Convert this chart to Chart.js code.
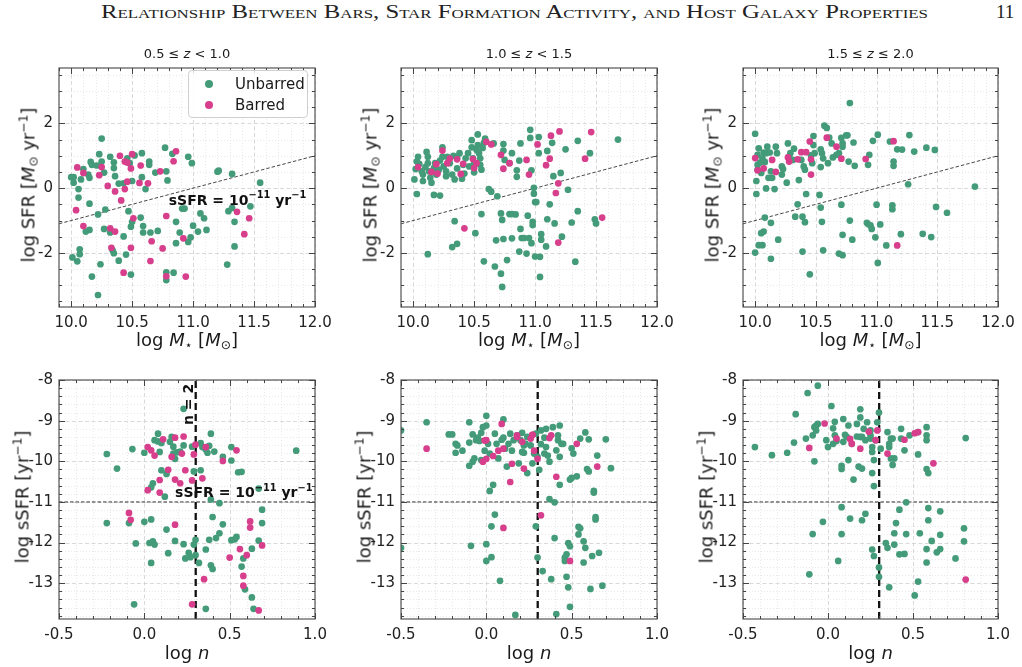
<!DOCTYPE html>
<html><head><meta charset="utf-8">
<script src="https://cdn.jsdelivr.net/npm/chart.js@4.4.1/dist/chart.umd.min.js"></script>
<style>
body{margin:0;background:#fff;width:1022px;height:667px;overflow:hidden;position:relative;font-family:"DejaVu Sans",sans-serif;color:#1a1a1a;}
canvas{position:absolute;}
.t{position:absolute;white-space:nowrap;transform:translate(-50%,-50%);}
.ry{transform:translate(-50%,-50%) rotate(-90deg);}
.ax{font-size:18px;}
.zl{font-size:13px;}
sub,sup{font-size:0.68em;line-height:0;}
sup{vertical-align:0.55em;} sub{vertical-align:-0.25em;}
#hdr{position:absolute;left:101px;top:1px;font-family:"Liberation Serif","DejaVu Serif",serif;font-variant:small-caps;font-size:19px;color:#222;white-space:nowrap;transform-origin:0 0;}
#pg{position:absolute;left:996px;top:1px;font-family:"Liberation Serif","DejaVu Serif",serif;font-size:19px;color:#222;}
#leg{position:absolute;left:188px;top:70px;width:118px;height:46px;border:1px solid #cfcfcf;border-radius:4px;background:rgba(255,255,255,0.85);font-size:15px;}
#leg .row{position:absolute;left:0;height:20px;line-height:20px;}
#leg .dot{position:absolute;left:16px;top:6px;width:8px;height:8px;border-radius:50%;}
#leg .lab{position:absolute;left:46px;top:0;}
</style></head><body>
<div id="hdr">Relationship Between Bars, Star Formation Activity, and Host Galaxy Properties</div>
<div id="pg">11</div>
<script>
// ---------------- data ----------------
const Z_BINS = ['0.5 ≤ <i>z</i> < 1.0', '1.0 ≤ <i>z</i> < 1.5', '1.5 ≤ <i>z</i> ≤ 2.0'];
const TOP_X_TICKS = [10.0, 10.5, 11.0, 11.5, 12.0];
const TOP_Y_TICKS = [-2, 0, 2];
const BOT_X_TICKS = [-0.5, 0.0, 0.5, 1.0];
const BOT_Y_TICKS = [-13, -12, -11, -10, -9, -8];
const LOG_SSFR_CUT = -11;          // sSFR = 10^-11 yr^-1
const LOG_N2 = Math.log10(2);      // n = 2

// log M* vs log SFR
const massSFR_z05_unb = [[10.25,1.53],[10.00,0.34],[10.02,0.34],[10.02,0.17],[10.06,-0.03],[10.06,-0.29],[10.15,-0.48],[10.01,-2.14],[10.05,-2.26],[10.07,-2.04],[10.07,-1.89],[10.17,-2.73],[10.22,-3.30],[10.24,-2.35],[10.08,0.27],[10.10,0.59],[10.14,0.42],[10.15,0.32],[10.16,0.81],[10.17,0.72],[10.21,0.70],[10.23,1.05],[10.25,0.82],[10.27,0.48],[10.28,-0.66],[10.22,-0.81],[10.27,-1.26],[10.12,-1.34],[10.15,-1.29],[10.32,0.97],[10.35,0.62],[10.35,0.80],[10.36,0.37],[10.39,0.14],[10.32,-1.37],[10.34,-1.92],[10.35,-2.01],[10.39,-2.24],[10.43,0.15],[10.43,-1.49],[10.45,-2.05],[10.46,0.92],[10.48,0.77],[10.47,-0.71],[10.49,-1.19],[10.50,-1.04],[10.49,-2.67],[10.50,0.22],[10.52,1.01],[10.58,1.08],[10.58,0.34],[10.57,-0.91],[10.59,-1.17],[10.59,-1.37],[10.61,-0.03],[10.64,0.82],[10.64,0.72],[10.65,-1.37],[10.69,0.48],[10.71,-1.32],[10.77,1.25],[10.78,0.52],[10.79,0.24],[10.78,-2.60],[10.78,-2.84],[10.83,1.06],[10.84,-2.61],[10.86,-1.04],[10.86,-1.70],[10.89,-1.37],[10.91,-0.63],[10.93,-0.63],[10.96,0.97],[10.99,0.77],[10.96,-1.66],[10.98,-1.52],[11.00,-1.16],[11.04,-1.34],[11.06,-0.78],[11.09,-0.93],[11.11,-1.29],[11.20,0.51],[11.21,0.54],[11.28,-2.36],[11.29,-0.71],[11.32,0.44],[11.32,-0.61],[11.34,-1.04],[11.34,-1.80],[11.47,-0.56],[11.55,0.17]];
const massSFR_z05_bar = [[10.05,0.64],[10.04,-0.68],[10.10,-1.17],[10.10,0.47],[10.23,0.40],[10.25,0.65],[10.30,0.07],[10.32,-1.24],[10.33,-1.84],[10.36,-1.34],[10.36,-0.10],[10.40,1.00],[10.41,-0.38],[10.44,0.82],[10.43,-2.61],[10.44,-0.03],[10.46,0.79],[10.46,0.20],[10.49,0.61],[10.49,-1.84],[10.50,1.05],[10.51,-0.93],[10.56,0.16],[10.57,0.70],[10.63,0.15],[10.65,-2.25],[10.66,-1.64],[10.73,0.52],[10.75,-1.86],[10.78,-0.86],[10.78,-2.72],[10.84,0.83],[10.86,1.14],[10.92,-1.55],[10.94,-2.73],[11.36,-0.73],[11.42,-1.42],[11.46,-0.93]];

const massSFR_z10_unb = [[10.04,0.97],[10.01,0.27],[10.02,0.59],[10.03,0.82],[10.03,-0.18],[10.05,0.75],[10.07,0.52],[10.08,0.42],[10.08,0.22],[10.10,0.65],[10.11,1.12],[10.12,0.97],[10.12,0.77],[10.13,0.52],[10.14,0.32],[10.15,0.17],[10.17,-0.21],[10.17,0.62],[10.18,0.77],[10.19,0.42],[10.21,0.57],[10.22,0.85],[10.22,-0.23],[10.24,1.26],[10.24,0.97],[10.25,0.67],[10.27,0.37],[10.27,0.52],[10.28,0.97],[10.30,0.77],[10.32,0.42],[10.33,1.00],[10.34,0.27],[10.36,0.95],[10.36,0.61],[10.38,1.08],[10.40,0.29],[10.41,0.72],[10.42,0.45],[10.43,0.92],[10.45,1.08],[10.46,0.67],[10.48,1.48],[10.48,1.26],[10.49,0.92],[10.50,0.77],[10.50,0.49],[10.52,1.18],[10.53,1.33],[10.53,1.66],[10.54,1.08],[10.55,0.92],[10.55,0.72],[10.56,0.57],[10.57,1.24],[10.58,1.40],[10.59,1.53],[10.62,-0.03],[10.64,-0.11],[10.66,1.38],[10.69,-0.25],[10.74,1.36],[10.74,1.16],[10.75,0.87],[10.79,0.77],[10.81,1.08],[10.34,-1.02],[10.32,-1.82],[10.36,-1.72],[10.51,-1.39],[10.56,-0.80],[10.58,-2.26],[10.12,-2.04],[10.67,-2.42],[10.68,-1.61],[10.72,-0.78],[10.73,-0.98],[10.72,-2.64],[10.73,-3.05],[10.74,-1.57],[10.77,-2.22],[10.79,-0.80],[10.81,-0.80],[10.84,-0.81],[10.81,-1.55],[10.85,0.55],[10.85,0.35],[10.87,-1.96],[10.88,-1.26],[10.88,1.38],[10.87,0.85],[10.89,-1.54],[10.91,-1.54],[10.93,-2.02],[10.94,-0.85],[10.95,-1.54],[10.97,-1.70],[10.98,-1.04],[10.98,-1.14],[10.96,1.80],[10.96,1.55],[10.97,0.55],[10.99,0.01],[10.99,-0.17],[11.00,-0.43],[11.01,-0.43],[11.00,-2.11],[11.03,1.58],[11.03,1.08],[11.04,-2.74],[11.04,-2.12],[11.05,-1.42],[11.05,-1.59],[11.09,-1.80],[11.10,1.15],[11.10,-0.96],[11.12,-0.50],[11.14,1.40],[11.15,0.37],[11.16,-1.09],[11.21,0.47],[11.22,-1.50],[11.25,1.20],[11.27,-0.05],[11.30,-1.06],[11.33,-2.27],[11.35,1.46],[11.35,-0.71],[11.45,1.08],[11.49,-0.96],[11.50,-1.09],[11.68,1.50]];
const massSFR_z10_bar = [[10.04,0.65],[10.15,0.50],[10.19,0.74],[10.20,0.45],[10.24,1.16],[10.28,0.77],[10.30,0.91],[10.36,0.89],[10.39,0.44],[10.41,0.75],[10.42,-1.24],[10.49,0.90],[10.50,0.62],[10.52,0.77],[10.60,1.43],[10.64,1.35],[10.72,1.03],[10.74,0.60],[10.79,0.77],[10.93,0.87],[10.95,0.42],[11.02,1.35],[11.09,0.71],[11.12,0.91],[11.13,1.62],[11.17,-0.15],[11.19,0.15],[11.19,-1.68],[11.20,1.75],[11.41,0.91],[11.46,1.73],[11.55,-0.91]];

const massSFR_z15_unb = [[10.00,1.68],[10.01,0.22],[10.01,-0.18],[10.00,-1.99],[10.02,0.72],[10.02,0.57],[10.02,1.03],[10.03,1.23],[10.04,0.79],[10.05,0.47],[10.06,0.92],[10.07,1.10],[10.08,0.81],[10.09,1.08],[10.10,1.28],[10.12,1.10],[10.03,-1.76],[10.06,-1.76],[10.05,-1.39],[10.07,-1.34],[10.09,-0.01],[10.08,-0.91],[10.11,0.32],[10.13,0.52],[10.14,0.32],[10.13,-1.07],[10.13,-2.18],[10.16,-0.03],[10.17,1.28],[10.18,1.08],[10.19,-1.59],[10.22,0.67],[10.22,0.42],[10.23,0.59],[10.26,0.17],[10.27,1.38],[10.28,0.97],[10.29,1.08],[10.31,0.87],[10.32,1.22],[10.33,-0.88],[10.35,-0.50],[10.36,0.25],[10.38,0.87],[10.40,0.67],[10.41,0.57],[10.39,-1.96],[10.39,-0.88],[10.41,-1.05],[10.42,-0.18],[10.45,-2.66],[10.46,1.01],[10.48,1.33],[10.49,1.08],[10.47,0.77],[10.48,1.61],[10.53,-0.21],[10.54,-0.60],[10.55,-1.04],[10.56,-1.92],[10.54,0.65],[10.54,1.20],[10.55,1.08],[10.56,0.92],[10.57,1.93],[10.59,1.86],[10.60,0.77],[10.61,1.56],[10.63,1.38],[10.64,0.95],[10.67,1.03],[10.69,1.08],[10.71,1.55],[10.72,1.38],[10.72,1.28],[10.71,-0.51],[10.72,-1.44],[10.69,-2.02],[10.72,-2.07],[10.75,1.63],[10.76,1.63],[10.78,2.63],[10.77,0.82],[10.78,-1.00],[10.80,-1.59],[10.81,1.41],[10.82,0.69],[10.93,0.72],[10.94,1.03],[10.92,-1.07],[10.93,-1.11],[10.95,-1.15],[10.96,-1.26],[10.97,1.46],[10.99,-1.52],[11.00,-0.51],[11.01,-2.31],[11.01,1.65],[11.03,-1.12],[11.08,-1.77],[11.11,1.44],[11.13,-0.53],[11.13,-0.65],[11.14,0.69],[11.14,0.82],[11.17,1.20],[11.20,-1.42],[11.21,1.19],[11.27,1.64],[11.26,0.12],[11.31,1.13],[11.38,-1.41],[11.41,1.25],[11.45,-1.51],[11.48,1.18],[11.49,-0.58],[11.58,-0.76],[11.81,0.05]];
const massSFR_z15_bar = [[10.00,0.93],[10.02,0.55],[10.07,0.61],[10.14,0.87],[10.17,0.50],[10.27,0.95],[10.28,0.82],[10.35,0.89],[10.38,1.11],[10.42,1.11],[10.45,1.44],[10.46,0.89],[10.46,0.42],[10.59,1.56],[10.67,1.28],[10.71,0.91],[10.91,0.90],[11.14,1.45],[11.17,-1.77]];

// log n vs log sSFR
const nSSFR_z05_unb = [[-0.22,-11.52],[-0.22,-9.82],[-0.16,-10.18],[-0.07,-9.70],[-0.09,-11.52],[-0.06,-13.52],[-0.05,-12.02],[0.00,-9.79],[0.00,-11.49],[0.03,-12.01],[0.04,-11.43],[0.04,-10.64],[0.05,-10.54],[0.05,-11.97],[0.04,-12.50],[0.06,-12.05],[0.08,-9.32],[0.06,-9.48],[0.08,-9.51],[0.09,-9.77],[0.10,-10.22],[0.10,-9.55],[0.12,-10.87],[0.13,-11.68],[0.13,-10.31],[0.14,-12.26],[0.15,-9.52],[0.17,-9.64],[0.17,-9.81],[0.18,-9.94],[0.16,-9.40],[0.18,-11.96],[0.19,-9.78],[0.21,-9.76],[0.23,-9.61],[0.23,-12.04],[0.24,-12.39],[0.26,-12.25],[0.27,-12.36],[0.28,-9.64],[0.29,-12.05],[0.29,-10.25],[0.30,-12.31],[0.30,-11.93],[0.32,-12.50],[0.33,-9.55],[0.33,-10.22],[0.34,-9.65],[0.36,-9.71],[0.37,-9.79],[0.39,-9.32],[0.38,-9.62],[0.41,-9.76],[0.39,-10.94],[0.40,-11.37],[0.39,-12.56],[0.40,-12.65],[0.36,-13.63],[0.36,-12.17],[0.38,-11.93],[0.42,-11.89],[0.44,-11.03],[0.44,-11.77],[0.46,-9.89],[0.46,-11.55],[0.51,-9.65],[0.51,-9.98],[0.51,-11.94],[0.53,-11.92],[0.54,-11.86],[0.55,-10.27],[0.57,-10.26],[0.57,-12.59],[0.58,-12.39],[0.59,-13.15],[0.63,-13.35],[0.63,-12.15],[0.64,-13.63],[0.67,-10.67],[0.67,-11.95],[0.69,-11.19],[0.69,-11.52],[0.89,-9.74],[0.23,-8.71]];
const nSSFR_z05_bar = [[-0.09,-11.27],[-0.08,-11.44],[0.02,-10.71],[0.02,-9.65],[0.04,-9.73],[0.06,-9.86],[0.09,-10.46],[0.09,-10.77],[0.11,-9.46],[0.14,-10.21],[0.16,-9.89],[0.18,-9.42],[0.18,-10.45],[0.18,-11.56],[0.21,-10.54],[0.22,-9.81],[0.23,-9.39],[0.24,-10.22],[0.28,-10.47],[0.29,-9.83],[0.30,-9.59],[0.28,-13.52],[0.34,-10.42],[0.35,-12.90],[0.36,-9.65],[0.46,-9.99],[0.50,-12.37],[0.54,-9.73],[0.56,-12.16],[0.58,-12.82],[0.58,-13.06],[0.60,-12.31],[0.62,-11.63],[0.62,-11.48],[0.67,-13.67],[0.69,-12.07]];

const nSSFR_z10_unb = [[-0.50,-9.24],[-0.50,-12.13],[-0.35,-9.04],[-0.22,-9.34],[-0.20,-9.34],[-0.18,-9.57],[-0.17,-9.61],[-0.18,-9.79],[-0.14,-9.74],[-0.10,-10.11],[-0.10,-9.04],[-0.10,-9.54],[-0.09,-12.08],[-0.08,-9.34],[-0.08,-10.01],[-0.07,-9.93],[-0.06,-9.48],[-0.05,-9.42],[-0.04,-9.50],[-0.03,-9.30],[-0.03,-9.97],[-0.02,-9.16],[-0.01,-9.74],[0.00,-9.12],[0.00,-8.88],[0.00,-12.04],[0.00,-12.45],[0.02,-10.73],[0.01,-9.57],[0.02,-9.81],[0.03,-12.36],[0.03,-11.60],[0.04,-10.58],[0.05,-9.32],[0.05,-11.31],[0.06,-9.57],[0.07,-9.93],[0.08,-12.94],[0.09,-9.47],[0.10,-8.97],[0.10,-9.42],[0.11,-9.69],[0.12,-10.13],[0.13,-9.57],[0.14,-9.32],[0.15,-9.74],[0.16,-9.48],[0.18,-9.36],[0.19,-10.05],[0.20,-9.48],[0.21,-9.77],[0.21,-9.30],[0.22,-9.61],[0.22,-9.79],[0.23,-9.57],[0.24,-9.40],[0.24,-10.29],[0.26,-9.61],[0.27,-10.05],[0.28,-9.81],[0.29,-9.32],[0.29,-11.60],[0.30,-9.89],[0.30,-12.37],[0.31,-10.21],[0.32,-9.24],[0.32,-9.58],[0.33,-12.70],[0.34,-9.81],[0.34,-9.42],[0.35,-9.20],[0.35,-9.65],[0.36,-9.86],[0.37,-10.01],[0.37,-10.93],[0.38,-12.90],[0.39,-9.16],[0.40,-11.89],[0.40,-11.01],[0.41,-13.76],[0.41,-9.73],[0.42,-9.36],[0.43,-9.12],[0.42,-9.48],[0.43,-9.89],[0.43,-10.58],[0.44,-9.57],[0.45,-9.57],[0.46,-12.37],[0.46,-12.45],[0.47,-12.29],[0.47,-12.84],[0.48,-12.01],[0.48,-13.10],[0.49,-12.09],[0.49,-10.45],[0.49,-13.58],[0.50,-10.41],[0.50,-9.68],[0.51,-9.81],[0.53,-10.37],[0.54,-11.80],[0.54,-11.61],[0.55,-11.65],[0.55,-9.44],[0.57,-12.49],[0.57,-11.97],[0.58,-12.13],[0.58,-9.29],[0.59,-10.19],[0.60,-10.25],[0.60,-9.46],[0.61,-13.14],[0.62,-12.33],[0.63,-10.77],[0.63,-10.73],[0.64,-11.43],[0.64,-11.37],[0.65,-9.86],[0.66,-12.25],[0.68,-13.06],[0.70,-9.46],[0.73,-10.17],[0.17,-13.78]];
const nSSFR_z10_bar = [[-0.35,-9.69],[-0.02,-10.01],[-0.01,-9.49],[0.00,-9.48],[0.00,-9.94],[0.04,-9.87],[0.07,-9.74],[0.09,-9.08],[0.10,-9.69],[0.10,-11.64],[0.14,-10.51],[0.15,-10.06],[0.18,-9.36],[0.18,-9.40],[0.21,-9.52],[0.22,-10.18],[0.26,-9.44],[0.27,-9.35],[0.27,-9.35],[0.28,-9.74],[0.30,-9.94],[0.32,-11.33],[0.37,-9.43],[0.38,-9.36],[0.41,-10.38],[0.49,-12.45],[0.53,-9.57],[0.65,-10.13]];

const nSSFR_z15_unb = [[-0.43,-9.65],[-0.33,-9.85],[-0.24,-9.79],[-0.20,-9.54],[-0.19,-8.84],[-0.12,-8.32],[-0.11,-12.78],[-0.13,-9.44],[-0.09,-11.79],[-0.09,-9.36],[-0.08,-10.00],[-0.08,-9.16],[-0.07,-9.12],[-0.07,-9.24],[-0.06,-9.08],[-0.06,-8.14],[-0.03,-11.49],[-0.01,-9.48],[0.00,-9.65],[0.02,-8.64],[0.03,-9.19],[0.03,-9.57],[0.04,-9.36],[0.04,-9.03],[0.05,-9.50],[0.06,-12.45],[0.08,-10.11],[0.08,-11.13],[0.08,-10.19],[0.08,-11.79],[0.09,-9.52],[0.09,-8.96],[0.10,-9.35],[0.11,-9.40],[0.12,-9.97],[0.12,-9.12],[0.13,-11.41],[0.14,-9.57],[0.15,-10.45],[0.17,-9.08],[0.17,-9.39],[0.18,-10.13],[0.19,-8.92],[0.19,-9.40],[0.19,-8.72],[0.20,-11.45],[0.20,-10.18],[0.20,-9.40],[0.21,-9.20],[0.22,-11.29],[0.22,-9.48],[0.23,-9.04],[0.25,-9.24],[0.25,-9.44],[0.25,-9.36],[0.26,-10.29],[0.26,-9.65],[0.26,-9.77],[0.27,-9.97],[0.26,-12.17],[0.27,-12.33],[0.27,-10.61],[0.28,-9.48],[0.29,-9.04],[0.30,-8.80],[0.30,-12.61],[0.30,-12.84],[0.31,-9.69],[0.34,-12.01],[0.35,-9.28],[0.35,-12.13],[0.36,-13.10],[0.36,-9.57],[0.36,-9.65],[0.37,-9.44],[0.37,-9.93],[0.38,-10.09],[0.38,-9.44],[0.39,-11.77],[0.39,-12.05],[0.39,-9.93],[0.40,-11.52],[0.42,-11.19],[0.42,-12.29],[0.43,-9.20],[0.43,-9.44],[0.45,-12.28],[0.45,-9.73],[0.46,-11.79],[0.46,-11.01],[0.48,-9.36],[0.51,-13.30],[0.53,-12.96],[0.53,-9.83],[0.54,-11.77],[0.53,-9.28],[0.58,-9.16],[0.58,-9.36],[0.58,-9.48],[0.58,-10.19],[0.59,-11.15],[0.58,-12.16],[0.58,-12.49],[0.59,-10.29],[0.59,-11.45],[0.61,-11.96],[0.64,-12.24],[0.66,-12.16],[0.66,-11.81],[0.66,-11.23],[0.75,-12.39],[0.80,-11.65],[0.80,-11.97],[0.81,-9.43]];
const nSSFR_z15_bar = [[-0.11,-9.67],[-0.02,-9.07],[0.05,-9.44],[0.13,-9.45],[0.14,-9.57],[0.19,-9.69],[0.24,-9.27],[0.28,-9.48],[0.29,-9.24],[0.35,-9.81],[0.45,-9.47],[0.51,-9.31],[0.53,-9.28],[0.62,-10.05],[0.81,-12.91]];

// ---------------- styles / layout ----------------
const GREEN = '#449b79', PINK = '#d73e8b';
const SSFR_PARTS = [{t:'sSFR = 10'},{t:'−11',sup:true},{t:' yr'},{t:'−1',sup:true}];

const panels = [
  {L:59, T:63, R:315, B:307, kind:'top', unb:massSFR_z05_unb, bar:massSFR_z05_bar, z:0,
   notes:[{parts:SSFR_PARTS, x:10.80, y:-0.40, align:'left'}]},
  {L:401, T:63, R:657, B:307, kind:'top', unb:massSFR_z10_unb, bar:massSFR_z10_bar, z:1, notes:[]},
  {L:743, T:63, R:998, B:307, kind:'top', unb:massSFR_z15_unb, bar:massSFR_z15_bar, z:2, notes:[]},
  {L:59, T:375, R:315, B:619, kind:'bot', unb:nSSFR_z05_unb, bar:nSSFR_z05_bar,
   notes:[{parts:SSFR_PARTS, x:0.18, y:-10.80, align:'left'},
          {parts:[{t:'n = 2'}], x:0.266, y:-8.60, align:'center', rot:true}]},
  {L:401, T:375, R:657, B:619, kind:'bot', unb:nSSFR_z10_unb, bar:nSSFR_z10_bar, notes:[]},
  {L:743, T:375, R:998, B:619, kind:'bot', unb:nSSFR_z15_unb, bar:nSSFR_z15_bar, notes:[]},
];

Chart.defaults.font.family = "'DejaVu Sans', sans-serif";
Chart.defaults.color = '#222';

function drawRich(ctx, parts, x, y, size, align){
  const fonts = parts.map(p => `bold ${p.sup ? size*0.7 : size}px 'DejaVu Sans'`);
  const widths = parts.map((p,i)=>{ctx.font = fonts[i]; return ctx.measureText(p.t).width;});
  const total = widths.reduce((a,b)=>a+b,0);
  let cx = align === 'left' ? x : x - total/2;
  ctx.textBaseline = 'middle'; ctx.textAlign = 'left';
  parts.forEach((p,i)=>{ctx.font = fonts[i]; ctx.fillText(p.t, cx, p.sup ? y - size*0.4 : y); cx += widths[i];});
}

function steps(min, max, step){
  const out = [];
  for (let i = Math.ceil(min/step - 1e-9); i*step <= max + 1e-9; i++) out.push(+(i*step).toFixed(6));
  return out;
}
function isMult(v, s){ const r = v/s; return Math.abs(r - Math.round(r)) < 1e-6; }

const framePlugin = {
  id: 'frame',
  beforeDatasetsDraw(chart, args, opts){
    const {ctx, chartArea:a, scales:{x, y}} = chart;
    const g = opts.grid;
    ctx.save();
    ctx.lineWidth = 0.8;
    const drawV = (v, dash, col) => { const px = Math.round(x.getPixelForValue(v))+0.5; ctx.setLineDash(dash); ctx.strokeStyle = col; ctx.beginPath(); ctx.moveTo(px, a.top); ctx.lineTo(px, a.bottom); ctx.stroke(); };
    const drawH = (v, dash, col) => { const py = Math.round(y.getPixelForValue(v))+0.5; ctx.setLineDash(dash); ctx.strokeStyle = col; ctx.beginPath(); ctx.moveTo(a.left, py); ctx.lineTo(a.right, py); ctx.stroke(); };
    steps(x.min, x.max, g.xMinor).forEach(v => { if (!isMult(v, g.xMajor)) drawV(v, [1,2], '#e2e2e2'); });
    steps(y.min, y.max, g.yMinor).forEach(v => { if (!isMult(v, g.yMajor)) drawH(v, [1,2], '#e2e2e2'); });
    steps(x.min, x.max, g.xMajor).forEach(v => drawV(v, [4,2.5], '#cfcfcf'));
    steps(y.min, y.max, g.yMajor).forEach(v => drawH(v, [4,2.5], '#cfcfcf'));
    ctx.restore();
  },
  afterDatasetsDraw(chart, args, opts){
    const {ctx, chartArea:a, scales:{x, y}} = chart;
    const g = opts.grid;
    ctx.save();
    ctx.setLineDash([]);
    ctx.strokeStyle = '#555'; ctx.lineWidth = 1.2;
    ctx.strokeRect(a.left, a.top, a.right - a.left, a.bottom - a.top);
    ctx.lineWidth = 1; ctx.strokeStyle = '#444';
    steps(x.min, x.max, g.xMinor).forEach(v => {
      const len = isMult(v, g.xMajor) ? 6 : 3; const px = Math.round(x.getPixelForValue(v))+0.5;
      ctx.beginPath(); ctx.moveTo(px, a.bottom); ctx.lineTo(px, a.bottom - len); ctx.moveTo(px, a.top); ctx.lineTo(px, a.top + len); ctx.stroke();
    });
    steps(y.min, y.max, g.yMinor).forEach(v => {
      const len = isMult(v, g.yMajor) ? 6 : 3; const py = Math.round(y.getPixelForValue(v))+0.5;
      ctx.beginPath(); ctx.moveTo(a.left, py); ctx.lineTo(a.left + len, py); ctx.moveTo(a.right, py); ctx.lineTo(a.right - len, py); ctx.stroke();
    });
    ctx.fillStyle = '#111';
    (opts.notes || []).forEach(n => {
      const px = x.getPixelForValue(n.x), py = y.getPixelForValue(n.y);
      if (n.rot){ ctx.save(); ctx.translate(px, py); ctx.rotate(-Math.PI/2); drawRich(ctx, n.parts, 0, 0, 14, 'center'); ctx.restore(); }
      else drawRich(ctx, n.parts, px, py, 14, n.align);
    });
    ctx.restore();
  }
};

function addText(html, cx, cy, cls){
  const d = document.createElement('div');
  d.className = 't ' + cls; d.innerHTML = html;
  d.style.left = cx + 'px'; d.style.top = cy + 'px';
  document.body.appendChild(d);
}

function makePanel(p){
  const padT = 10, padR = 24, Ly = 55, Lx = 30;
  const w = Ly + (p.R - p.L) + padR, h = padT + (p.B - p.T) + Lx;
  const cv = document.createElement('canvas');
  cv.width = w; cv.height = h;
  cv.style.left = (p.L - Ly) + 'px'; cv.style.top = (p.T - padT) + 'px';
  cv.style.width = w + 'px'; cv.style.height = h + 'px';
  document.body.appendChild(cv);
  const top = p.kind === 'top';
  const xr = top ? [9.9, 12.0] : [-0.5, 1.0];
  const yr = top ? [-3.67, 3.71] : [-13.88, -8];
  const XT = top ? TOP_X_TICKS : BOT_X_TICKS;
  const YT = top ? TOP_Y_TICKS : BOT_Y_TICKS;
  const pt = (arr) => arr.map(([x, y]) => ({x, y}));
  const datasets = [
    {label:'Unbarred', data:pt(p.unb), backgroundColor:GREEN, borderWidth:0, pointRadius:3.35, pointHoverRadius:3.35, order:2},
    {label:'Barred', data:pt(p.bar), backgroundColor:PINK, borderWidth:0, pointRadius:3.35, pointHoverRadius:3.35, order:1},
  ];
  if (top){
    datasets.push({data:[{x:xr[0], y:xr[0] + LOG_SSFR_CUT}, {x:xr[1], y:xr[1] + LOG_SSFR_CUT}], showLine:true, pointRadius:0, borderColor:'#333', borderWidth:0.9, borderDash:[3.5,2], order:3});
  } else {
    datasets.push({data:[{x:xr[0], y:LOG_SSFR_CUT}, {x:xr[1], y:LOG_SSFR_CUT}], showLine:true, pointRadius:0, borderColor:'#222', borderWidth:0.9, borderDash:[3.5,2], order:3});
    datasets.push({data:[{x:LOG_N2, y:yr[0]}, {x:LOG_N2, y:yr[1]}], showLine:true, pointRadius:0, borderColor:'#111', borderWidth:2.3, borderDash:[7,4], order:3});
  }
  new Chart(cv, {
    type:'scatter',
    data:{datasets},
    options:{
      responsive:false, animation:false, devicePixelRatio:1, events:[],
      layout:{padding:{top:padT, right:padR, left:0, bottom:0}},
      plugins:{legend:{display:false}, tooltip:{enabled:false},
        frame:{grid: top ? {xMinor:0.1, xMajor:0.5, yMinor:0.5, yMajor:2} : {xMinor:0.1, xMajor:0.5, yMinor:0.2, yMajor:1}, notes:p.notes}},
      scales:{
        x:{type:'linear', min:xr[0], max:xr[1],
           afterBuildTicks: s => { s.ticks = XT.map(v => ({value:v})); },
           afterFit: s => { s.height = Lx; },
           grid:{display:false, drawTicks:false}, border:{display:false},
           ticks:{padding:7, font:{size:15}, color:'#222', autoSkip:false, maxRotation:0, callback: v => Number(v).toFixed(1)}},
        y:{type:'linear', min:yr[0], max:yr[1],
           afterBuildTicks: s => { s.ticks = YT.map(v => ({value:v})); },
           afterFit: s => { s.width = Ly; },
           grid:{display:false, drawTicks:false}, border:{display:false},
           ticks:{padding:6, font:{size:15}, color:'#222', autoSkip:false, callback: v => String(v)}}
      }
    },
    plugins:[framePlugin]
  });
  const cx = (p.L + p.R) / 2, cy = (p.T + p.B) / 2;
  if (top){
    addText(Z_BINS[p.z], cx, 53, 'zl');
    addText('log <i>M</i><sub>⋆</sub> [<i>M</i><sub>⊙</sub>]', cx, 339, 'ax');
    addText('log SFR [<i>M</i><sub>⊙</sub> yr<sup>−1</sup>]', p.L - 31, cy, 'ax ry');
  } else {
    addText('log <i>n</i>', cx, 652, 'ax');
    addText('log sSFR [yr<sup>−1</sup>]', p.L - 37, cy, 'ax ry');
  }
}

panels.forEach(makePanel);

// legend
const leg = document.createElement('div'); leg.id = 'leg';
leg.innerHTML = `<div class="row" style="top:3px;width:100%"><span class="dot" style="background:${GREEN}"></span><span class="lab">Unbarred</span></div>` +
                `<div class="row" style="top:24px;width:100%"><span class="dot" style="background:${PINK}"></span><span class="lab">Barred</span></div>`;
document.body.appendChild(leg);

// header width fit
const hdr = document.getElementById('hdr');
const hw = hdr.getBoundingClientRect().width;
hdr.style.transform = `scaleX(${827 / hw})`;
</script>
</body></html>
